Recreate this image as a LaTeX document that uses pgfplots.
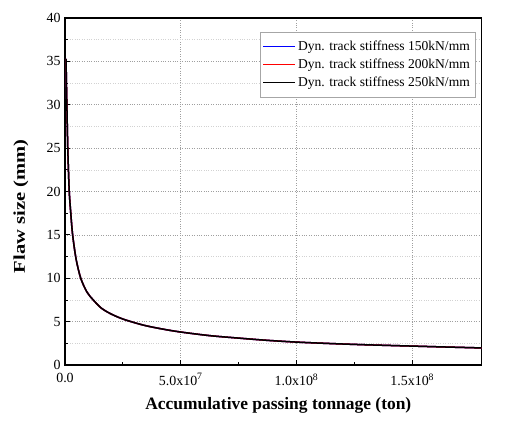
\documentclass[border=0pt]{standalone}
\usepackage{fontspec}
\setmainfont{Liberation Serif}
\newfontfamily\ylabfont[FakeStretch=1.25]{Liberation Serif}
\usepackage{pgfplots}
\pgfplotsset{compat=1.18}
\pgfplotstableread{
x y
4.5e5 35.3
6.5e5 32.0
8.5e5 29.5
1.2e6 25.0
1.8e6 20.2
2.5e6 17.5
3.3e6 15.0
4.8e6 12.2
6.8e6 10.0
9.5e6 8.4
1.22e7 7.5
1.55e7 6.6
1.94e7 5.95
2.5e7 5.3
3.38e7 4.6
4.2e7 4.15
5.0e7 3.8
6.27e7 3.38
7.5e7 3.10
8.7e7 2.85
1.0e8 2.64
1.15e8 2.47
1.3e8 2.33
1.5e8 2.18
1.65e8 2.07
1.81e8 1.96
}\dataA
\begin{document}
\begin{tikzpicture}
\useasboundingbox (-65bp,-62bp) rectangle (442bp,365bp);
\begin{axis}[
  at={(0,0)}, anchor=south west,
  width=416.7bp, height=347bp, scale only axis,
  xmin=0, xmax=1.8e8, ymin=0, ymax=40,
  xtick={0,5e7,1e8,1.5e8},
  xticklabels={0.0,5.0x10\textsuperscript{7},1.0x10\textsuperscript{8},1.5x10\textsuperscript{8}},
  scaled x ticks=false,
  ytick={0,5,...,40},
  minor x tick num=1, minor y tick num=1,
  tick align=inside, xtick pos=bottom, ytick pos=left,
  major tick length=5bp, minor tick length=3.5bp,
  xmajorgrids, ymajorgrids, yminorgrids,
  major grid style={dotted, gray!75, line width=0.6bp},
  minor grid style={dotted, gray!35, line width=0.6bp},
  axis line style={line width=1.1bp},
  every tick/.style={black, line width=0.8bp},
  ticklabel style={font=\fontsize{14}{16}\selectfont},
  xticklabel style={yshift=-5bp},
  yticklabel style={xshift=-1bp},
  /pgf/number format/assume math mode=true,
  xlabel={\fontsize{17.5}{20}\selectfont\bfseries Accumulative passing tonnage (ton)},
  xlabel style={at={(axis description cs:0.512,-0.115)}, anchor=center},
  ylabel={\ylabfont\fontsize{16.5}{19}\selectfont\bfseries Flaw size (mm)},
  ylabel style={at={(axis description cs:-0.106,0.457)}, anchor=center},
  legend style={at={(0.984,0.96)}, anchor=north east, draw=gray!70,
    font=\fontsize{13.6}{15}\selectfont, cells={anchor=west}, row sep=3bp,
    inner xsep=3bp, inner ysep=7bp},
  legend image code/.code={\draw[#1, line width=1.3bp] (0bp,0bp) -- (32bp,0bp);},
]
\addplot[blue, line width=1.5bp, smooth] table {\dataA};
\addlegendentry{Dyn. track stiffness 150kN/mm}
\addplot[red, line width=1.5bp, smooth] table {\dataA};
\addlegendentry{Dyn. track stiffness 200kN/mm}
\addplot[black, line width=1.5bp, smooth] table {\dataA};
\addlegendentry{Dyn. track stiffness 250kN/mm}
\end{axis}
\end{tikzpicture}
\end{document}
